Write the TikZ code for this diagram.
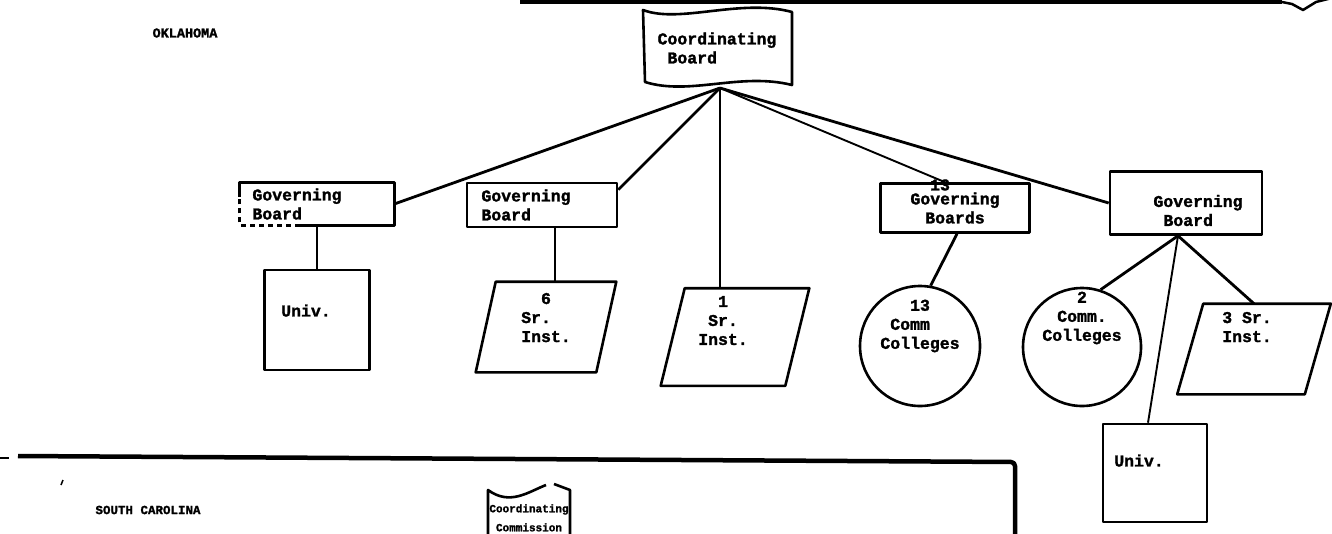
\documentclass[tikz,border=0pt]{standalone}
\usepackage{fontspec}
\setmonofont[BoldFeatures={FakeBold=1.6}]{Liberation Mono}
\tikzset{%
  chart/.style = {x=1pt, y=-1pt, line width=2.6pt, line join=round,
    font=\ttfamily\bfseries\fontsize{16.5}{19}\selectfont},
  board/.style = {rectangle, draw, align=left, inner sep=0pt},
  inst/.style = {rectangle, align=left, inner sep=0pt},
  college/.style = {circle, draw, inner sep=0pt},
  link/.style = {draw, line width=2.8pt},
  thinlink/.style = {draw, line width=1.9pt},
  rule/.style = {line width=4.5pt},
  state/.style = {font=\ttfamily\bfseries\fontsize{13.5}{15}\selectfont}
}
% slanted box drawn round a plain node
\newcommand{\slantdraw}[2]{%
  \draw ([xshift=#2]#1.north west) -- ([xshift=#2]#1.north east)
    -- ([xshift=-#2]#1.south east) -- ([xshift=-#2]#1.south west) -- cycle;}

\begin{document}
\begin{tikzpicture}[chart]
  \useasboundingbox (0,0) rectangle (1332,533);
  \clip (0,0) rectangle (1332,533);

  % page rules
  \draw[rule] (520,2) -- (1282,2);
  \draw[line width=2.5pt] (1282,2) -- (1292,4) -- (1303,10) -- (1316,2) -- (1332,-2);
  \draw[rule, rounded corners=4pt] (18,456) -- (1015,462) -- (1015,545);
  \draw[line width=2pt] (0,458) -- (9,458);
  \draw[line width=1.5pt] (63,480) -- (61,485);

  % upper chart
  \node[state] (ok) at (185,33) {OKLAHOMA};

  \node[inst, minimum width=149pt, minimum height=74pt] (cb) at (717,48) {Coordinating\\\ Board};
  \draw (643,10) .. controls (680,24) and (740,-2) .. (792,12) -- (792,85)
    .. controls (740,72) and (690,96) .. (645,82) -- cycle;
  \coordinate (top) at (720,88);

  \node[inst, minimum width=152pt, minimum height=40pt] (gov1) at (317,204) {Governing\hspace*{40pt}\\Board};
  \draw (gov1.south west) ++(60pt,0) -- (gov1.south east) -- (gov1.north east)
    -- (gov1.north west) -- ++(0,-14pt);
  \draw[dashed, dash pattern=on 5pt off 4pt] (gov1.south west) ++(60pt,0) -- (gov1.south west) -- ++(0,26pt);
  \node[board, minimum width=150pt, minimum height=44pt] (gov2) at (542,205) {Governing\hspace*{32pt}\\Board};
  \node[board, align=center, minimum width=149pt, minimum height=49pt] (gov13) at (955,208) {Governing\\Boards};
  \node (n13) at (940,185) {13};
  \node[board, minimum width=152pt, minimum height=63pt, text height=46pt] (gov5) at (1186,203)
    {\hspace*{24pt}Governing\\\hspace*{34pt}Board};

  \node[board, minimum width=105pt, minimum height=100pt, text depth=19pt] (univ1) at (317,320) {Univ.\hspace*{22pt}};
  \node[inst, minimum width=118pt, minimum height=88pt, text depth=19pt] (sr6) at (546,327) {\ \ 6\\Sr.\\Inst.};
  \slantdraw{sr6}{10pt}
  \node[inst, minimum width=122pt, minimum height=95pt, text depth=33pt] (sr1) at (735,337)
    {\ \ 1\\\ Sr.\\Inst.\hspace*{24pt}};
  \slantdraw{sr1}{12pt}
  \node[college, minimum size=120pt,
    label={[align=left, yshift=20pt]center:\ \ \ 13\\\ Comm\\Colleges}] (cc13) at (920,346) {};
  \node[college, minimum size=118pt,
    label={[align=center, yshift=29pt]center:2\\Comm.\\Colleges}] (cc2) at (1082,347) {};
  \node[inst, minimum width=125pt, minimum height=88pt, text depth=44pt] (sr3) at (1254,349) {3 Sr.\hspace*{14pt}\\Inst.};
  \slantdraw{sr3}{13pt}
  \node[board, minimum width=104pt, minimum height=98pt, text depth=25pt] (univ2) at (1155,473) {Univ.\hspace*{32pt}};

  % links
  \draw[link] (top) -- (gov1.east);
  \draw[link] (top) -- ([yshift=-8pt]gov2.north east);
  \draw[thinlink] (top) -- (top |- sr1.north);
  \draw[thinlink] (top) -- ([xshift=-10pt]gov13.north);
  \draw[link] (top) -- (gov5.west);
  \draw[link] (gov1.south) -- (univ1.north);
  \draw[link] ([xshift=13pt]gov2.south) -- ([xshift=13pt]gov2.south |- sr6.north);
  \draw[link] ([xshift=2pt]gov13.south) -- (cc13.80);
  \coordinate (g5) at ([xshift=-8pt]gov5.south);
  \draw[link] (g5) -- (cc2.72);
  \draw[link] (g5) -- (sr3.north);
  \draw[thinlink] (g5) -- ([xshift=-7pt]univ2.north);

  % lower chart
  \node[state, font=\ttfamily\bfseries\fontsize{12.5}{15}\selectfont] (sc) at (148,510) {SOUTH CAROLINA};
  \node[inst, align=center, font=\ttfamily\bfseries\fontsize{11}{19}\selectfont, anchor=north] (cc) at (529,503)
    {Coordinating\\Commission};
  \draw (488,545) -- (488,490) .. controls (510,506) and (528,492) .. (546,485);
  \draw (554,484) -- (570,490) -- (570,545);
\end{tikzpicture}
\end{document}
